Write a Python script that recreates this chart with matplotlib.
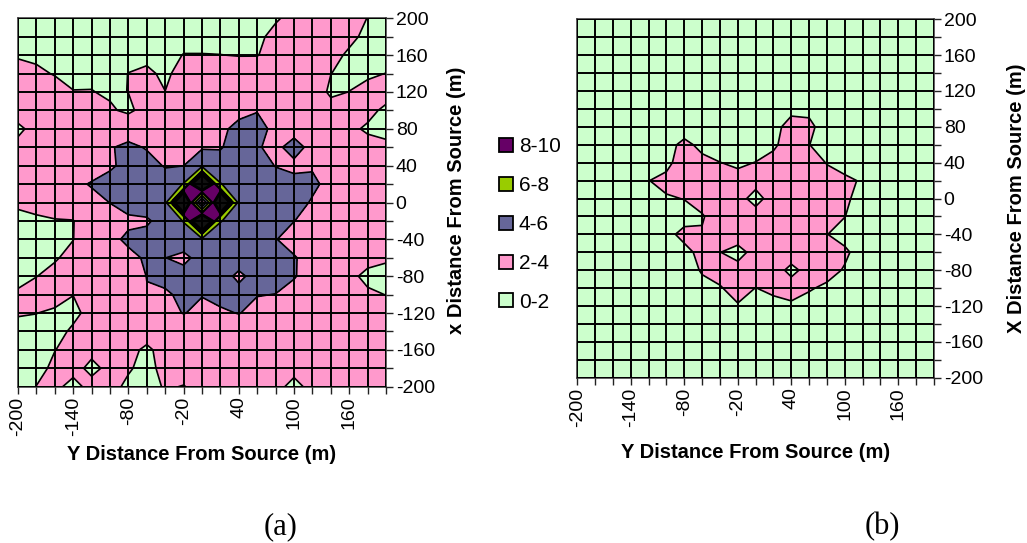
import matplotlib
matplotlib.use("Agg")
import matplotlib.pyplot as plt
from matplotlib.patches import Patch

plt.rcParams['font.family'] = ['Liberation Sans', 'DejaVu Sans']

# grid positions (m)
y_dist = [-200, -180, -160, -140, -120, -100, -80, -60, -40, -20, 0, 20, 40, 60, 80, 100, 120, 140, 160, 180, 200]
x_dist = [200, 180, 160, 140, 120, 100, 80, 60, 40, 20, 0, -20, -40, -60, -80, -100, -120, -140, -160, -180, -200]

# tick labels
bottom_labels = [-200, -140, -80, -20, 40, 100, 160]
right_labels = [200, 160, 120, 80, 40, 0, -40, -80, -120, -160, -200]

# contour bands
levels = [0, 2, 4, 6, 8, 10, 15]
line_levels = [2, 4, 6, 8, 8.5, 9, 9.5, 10]
band_colors = ['#CCFFCC', '#FF99CC', '#666699', '#99CC00', '#660066', '#111111']
legend_labels = ['8-10', '6-8', '4-6', '2-4', '0-2']
legend_colors = ['#660066', '#99CC00', '#666699', '#FF99CC', '#CCFFCC']

# panel (a), one row per x distance
conc_a = [
    [1.2, 1.2, 1.2, 1.3, 1.3, 1.3, 1.3, 1.3, 1.3, 1.4, 1.4, 1.4, 1.4, 1.5, 1.85, 2.4, 2.6, 2.6, 2.4, 1.98, 1.5],
    [1.3, 1.3, 1.4, 1.4, 1.4, 1.4, 1.4, 1.4, 1.4, 1.5, 1.5, 1.5, 1.5, 1.7, 2.4, 2.7, 2.8, 2.7, 2.3, 1.7, 1.4],
    [1.9, 1.7, 1.5, 1.5, 1.5, 1.5, 1.6, 1.6, 1.5, 2.05, 2.05, 2.02, 1.95, 1.95, 2.5, 2.8, 2.8, 2.4, 1.8, 1.5, 1.4],
    [2.4, 2.3, 1.9, 1.6, 1.7, 1.6, 2.02, 2.3, 1.7, 2.6, 2.7, 2.8, 2.8, 2.9, 3.0, 3.0, 2.8, 2.02, 1.6, 1.8, 2.02],
    [2.6, 2.7, 2.7, 2.05, 2.05, 1.8, 2.02, 2.6, 2.02, 2.7, 2.9, 3.0, 3.1, 3.2, 3.2, 3.1, 3.0, 1.7, 2.02, 2.4, 2.6],
    [2.7, 2.8, 2.8, 2.8, 2.7, 2.2, 1.7, 2.6, 2.8, 2.9, 3.1, 3.3, 3.6, 3.95, 3.9, 3.4, 3.1, 2.7, 2.6, 2.4, 1.7],
    [1.7, 2.5, 2.8, 2.9, 3.0, 3.0, 3.3, 3.1, 3.1, 3.3, 3.5, 3.7, 4.4, 4.4, 3.7, 3.5, 3.1, 2.7, 2.3, 1.8, 1.6],
    [2.4, 3.0, 4.03, 3.1, 3.2, 3.9, 4.3, 3.9, 3.7, 3.7, 3.8, 3.9, 4.6, 4.1, 3.7, 4.5, 3.6, 3.1, 2.8, 2.5, 2.3],
    [2.8, 3.1, 3.2, 3.2, 3.4, 3.8, 4.4, 4.5, 3.9, 3.98, 5.6, 4.6, 4.8, 4.6, 3.95, 3.7, 3.9, 3.2, 3.0, 2.8, 2.6],
    [2.9, 3.1, 3.3, 3.7, 4.1, 4.5, 4.7, 4.8, 4.7, 6.1, 14.0, 6.1, 5.0, 5.0, 4.6, 4.4, 4.2, 3.7, 3.2, 3.0, 2.8],
    [2.3, 2.6, 2.8, 3.0, 3.6, 4.02, 4.6, 4.8, 5.5, 14.0, 1.0, 14.0, 5.5, 4.9, 4.7, 4.4, 3.9, 3.4, 3.1, 2.9, 2.7],
    [1.5, 1.7, 1.9, 1.95, 3.0, 3.5, 3.7, 3.8, 4.6, 6.1, 14.0, 6.1, 5.1, 4.8, 4.4, 4.02, 3.6, 3.2, 3.0, 2.8, 2.6],
    [1.4, 1.5, 1.7, 1.98, 2.8, 3.6, 4.3, 4.5, 4.7, 4.9, 5.6, 4.9, 4.8, 4.6, 4.05, 3.5, 3.2, 3.0, 2.8, 2.6, 2.5],
    [1.5, 1.7, 1.9, 2.3, 3.0, 4.03, 3.6, 4.2, 4.02, 3.6, 4.6, 4.8, 4.7, 4.6, 4.3, 4.1, 3.5, 3.0, 2.7, 2.4, 2.2],
    [1.6, 1.98, 2.3, 2.6, 2.9, 3.2, 3.5, 4.02, 4.4, 4.6, 4.7, 4.6, 3.7, 4.5, 4.4, 4.1, 3.4, 2.8, 2.3, 1.7, 1.5],
    [2.2, 2.4, 2.5, 2.02, 2.6, 2.9, 3.3, 3.95, 3.8, 4.3, 4.05, 4.4, 4.5, 4.05, 3.98, 3.5, 3.1, 2.7, 2.4, 2.2, 1.98],
    [2.1, 2.02, 1.8, 1.7, 2.4, 2.7, 3.0, 3.3, 3.6, 4.05, 3.7, 3.8, 4.05, 3.6, 3.3, 3.0, 2.8, 2.6, 2.5, 2.4, 2.3],
    [1.6, 1.6, 1.6, 2.2, 2.5, 2.6, 2.7, 2.5, 2.8, 3.1, 3.2, 3.2, 3.2, 3.1, 2.9, 2.7, 2.6, 2.5, 2.5, 2.4, 2.3],
    [1.4, 1.5, 1.98, 2.3, 2.3, 2.4, 2.3, 1.8, 2.4, 2.7, 2.8, 2.8, 2.8, 2.7, 2.6, 2.5, 2.5, 2.4, 2.4, 2.3, 2.3],
    [1.3, 1.7, 2.2, 2.4, 1.7, 2.3, 2.1, 1.7, 2.3, 2.4, 2.5, 2.5, 2.5, 2.4, 2.3, 2.2, 2.3, 2.3, 2.3, 2.2, 2.2],
    [1.3, 2.02, 2.3, 1.6, 2.4, 2.3, 1.8, 1.6, 2.1, 1.96, 2.3, 2.4, 2.3, 2.3, 2.2, 1.8, 2.2, 2.3, 2.3, 2.2, 2.2],
]

# panel (b)
conc_b = [
    [0.8, 0.8, 0.8, 0.8, 0.8, 0.8, 0.8, 0.8, 0.8, 0.8, 0.8, 0.8, 0.8, 0.8, 0.8, 0.8, 0.8, 0.8, 0.8, 0.8, 0.8],
    [0.8, 0.8, 0.8, 0.8, 0.8, 0.8, 0.8, 0.8, 0.8, 0.8, 0.8, 0.8, 0.9, 0.9, 0.8, 0.8, 0.8, 0.8, 0.8, 0.8, 0.8],
    [0.8, 0.8, 0.8, 0.8, 0.8, 0.9, 0.9, 0.9, 0.9, 0.9, 0.9, 0.9, 1.0, 1.0, 0.9, 0.9, 0.8, 0.8, 0.8, 0.8, 0.8],
    [0.8, 0.8, 0.8, 0.8, 0.9, 0.9, 1.0, 1.0, 1.0, 1.0, 1.0, 1.0, 1.1, 1.1, 1.0, 1.0, 0.9, 0.8, 0.8, 0.8, 0.8],
    [0.8, 0.8, 0.8, 0.9, 0.9, 1.0, 1.0, 1.0, 1.0, 1.0, 1.1, 1.1, 1.2, 1.2, 1.1, 1.0, 0.9, 0.9, 0.8, 0.8, 0.8],
    [0.8, 0.8, 0.9, 0.9, 1.0, 1.0, 1.1, 1.1, 1.1, 1.1, 1.1, 1.2, 1.6, 1.7, 1.3, 1.1, 1.0, 0.9, 0.8, 0.8, 0.8],
    [0.8, 0.9, 0.9, 1.0, 1.0, 1.2, 1.4, 1.2, 1.2, 1.2, 1.2, 1.5, 2.6, 2.3, 1.4, 1.2, 1.0, 0.9, 0.8, 0.8, 0.8],
    [0.8, 0.9, 1.0, 1.0, 1.2, 1.6, 2.3, 1.7, 1.4, 1.3, 1.4, 1.8, 2.6, 2.02, 1.5, 2.03, 1.3, 1.0, 0.9, 0.8, 0.8],
    [0.9, 0.9, 1.0, 1.1, 1.4, 1.7, 2.6, 2.3, 2.02, 1.8, 2.03, 2.4, 2.8, 2.5, 1.95, 1.6, 1.3, 1.0, 0.9, 0.8, 0.8],
    [0.9, 1.0, 1.0, 1.3, 1.98, 2.3, 2.7, 2.7, 2.6, 2.4, 2.4, 2.7, 2.9, 2.8, 2.4, 2.2, 1.9, 1.3, 1.0, 0.9, 0.8],
    [0.9, 1.0, 1.0, 1.2, 1.4, 1.9, 2.03, 2.5, 2.7, 2.4, 1.6, 2.5, 2.8, 2.8, 2.5, 2.2, 1.6, 1.2, 1.0, 0.9, 0.8],
    [0.9, 0.9, 1.0, 1.1, 1.2, 1.3, 1.6, 1.9, 2.6, 2.7, 2.5, 2.7, 2.9, 2.7, 2.4, 2.02, 1.4, 1.1, 1.0, 0.9, 0.8],
    [0.9, 0.9, 1.0, 1.1, 1.2, 1.7, 2.3, 2.1, 2.6, 2.6, 2.7, 2.9, 2.9, 2.6, 2.02, 1.6, 1.3, 1.1, 0.9, 0.9, 0.8],
    [0.8, 0.9, 1.0, 1.1, 1.3, 2.02, 1.7, 2.3, 2.02, 1.6, 2.4, 2.7, 2.6, 2.6, 2.5, 2.2, 1.5, 1.1, 0.9, 0.8, 0.8],
    [0.8, 0.9, 0.9, 1.0, 1.1, 1.3, 1.5, 2.1, 2.5, 2.4, 2.6, 2.5, 1.7, 2.4, 2.4, 1.9, 1.3, 1.0, 0.9, 0.8, 0.8],
    [0.8, 0.8, 0.9, 1.0, 1.0, 1.1, 1.3, 1.7, 1.9, 2.5, 1.98, 2.3, 2.5, 2.1, 1.8, 1.4, 1.1, 1.0, 0.9, 0.8, 0.8],
    [0.8, 0.8, 0.9, 0.9, 1.0, 1.0, 1.1, 1.2, 1.4, 1.9, 1.5, 1.6, 1.8, 1.6, 1.3, 1.1, 1.0, 0.9, 0.8, 0.8, 0.8],
    [0.8, 0.8, 0.8, 0.9, 0.9, 1.0, 1.0, 1.1, 1.1, 1.3, 1.2, 1.3, 1.3, 1.2, 1.1, 1.0, 0.9, 0.9, 0.8, 0.8, 0.8],
    [0.8, 0.8, 0.8, 0.8, 0.9, 0.9, 0.9, 1.0, 1.0, 1.0, 1.0, 1.0, 1.0, 1.0, 1.0, 0.9, 0.9, 0.8, 0.8, 0.8, 0.8],
    [0.8, 0.8, 0.8, 0.8, 0.8, 0.8, 0.9, 0.9, 0.9, 0.9, 0.9, 0.9, 0.9, 0.9, 0.9, 0.9, 0.8, 0.8, 0.8, 0.8, 0.8],
    [0.8, 0.8, 0.8, 0.8, 0.8, 0.8, 0.8, 0.8, 0.8, 0.8, 0.8, 0.8, 0.8, 0.8, 0.8, 0.8, 0.8, 0.8, 0.8, 0.8, 0.8],
]

W, H = 1027, 543
fig = plt.figure(figsize=(W / 100, H / 100), dpi=100)


def px_axes(left, right, top, bottom):
    return fig.add_axes([left / W, 1 - bottom / H, (right - left) / W, (bottom - top) / H])


def draw_panel(ax, z, ylab, xlab_pos, ylab_pos):
    ax.contourf(y_dist, x_dist, z, levels=levels, colors=band_colors)
    ax.contour(y_dist, x_dist, z, levels=line_levels, colors='black', linewidths=1.2)
    ax.set_xlim(-200, 200)
    ax.set_ylim(-200, 200)
    ax.set_xticks(y_dist)
    ax.set_xticklabels([str(v) if v in bottom_labels else '' for v in y_dist], rotation=90, fontsize=14)
    ax.set_yticks(x_dist)
    ax.set_yticklabels([str(v) if v in right_labels else '' for v in x_dist], fontsize=14)
    ax.yaxis.tick_right()
    ax.tick_params(length=5, width=1, color='#222222', pad=2)
    ax.grid(True, color='black', linewidth=1.4)
    ax.set_axisbelow(False)
    for s in ax.spines.values():
        s.set_linewidth(1.1)
        s.set_color('#333333')
    ax.yaxis.set_label_position('right')
    ax.set_ylabel(ylab, fontweight='bold', fontsize=14.5, va='center')
    ax.set_xlabel('Y Distance From Source (m)', fontweight='bold', fontsize=14.5, va='center')
    ax.xaxis.set_label_coords(xlab_pos[0] / W, 1 - xlab_pos[1] / H, transform=fig.transFigure)
    ax.yaxis.set_label_coords(ylab_pos[0] / W, 1 - ylab_pos[1] / H, transform=fig.transFigure)


ax_a = px_axes(18, 386, 18.3, 386.7)
draw_panel(ax_a, conc_a, 'x Distance From Source (m)', (202, 455), (456, 200))
ax_b = px_axes(577.3, 934, 19.3, 377.7)
draw_panel(ax_b, conc_b, 'X Distance From Source (m)', (756, 452), (1017, 198))

handles = [Patch(facecolor=c, edgecolor='black', linewidth=1.3) for c in legend_colors]
fig.legend(handles, legend_labels, loc='upper left', bbox_to_anchor=(499 / W, 1 - 137.5 / H),
           frameon=False, fontsize=15, handlelength=0.65, handleheight=0.65,
           handletextpad=0.3, labelspacing=0.95, borderpad=0, borderaxespad=0)

fig.text(281 / W, 1 - 527 / H, '(a)', family='Liberation Serif', fontsize=22, ha='center', va='center')
fig.text(882 / W, 1 - 527 / H, '(b)', family='Liberation Serif', fontsize=22, ha='center', va='center')

plt.savefig('out.png', dpi=100)
